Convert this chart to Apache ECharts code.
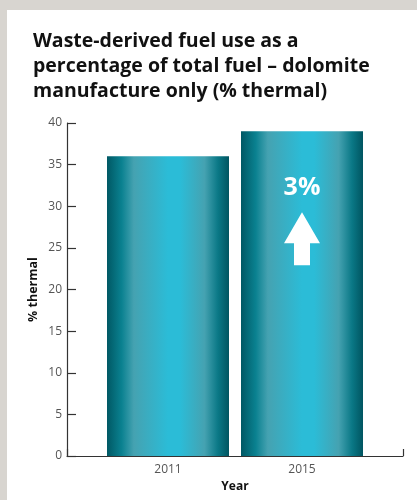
<!DOCTYPE html>
<html>
<head>
<meta charset="utf-8">
<script src="https://cdn.jsdelivr.net/npm/echarts@6/dist/echarts.min.js"></script>
<style>
  html, body { margin: 0; padding: 0; background: #d8d5d0; }
  #main { width: 417px; height: 500px; }
</style>
</head>
<body>
<div id="main"></div>
<script>
var years = ['2011', '2015'];
var thermalPct = [36, 39];
var yTicks = [0, 5, 10, 15, 20, 25, 30, 35, 40];
var changeLabel = '3%';

var chart = echarts.init(document.getElementById('main'));

// horizontal shading across each bar, dark edges and bright middle
var barGradient = new echarts.graphic.LinearGradient(0, 0, 1, 0, [
  { offset: 0, color: '#005864' },
  { offset: 0.12, color: '#0a8190' },
  { offset: 0.22, color: '#45a2b1' },
  { offset: 0.5, color: '#2bbcd7' },
  { offset: 0.6, color: '#2bbcd7' },
  { offset: 0.8, color: '#45a2b1' },
  { offset: 0.91, color: '#0a7886' },
  { offset: 1, color: '#005561' }
]);

var arrowPath = 'path://M18,0 L36,31 L26,31 L26,53 L10,53 L10,31 L0,31 Z';

chart.setOption({
  backgroundColor: '#d8d5d0',
  animation: false,
  textStyle: { fontFamily: 'Open Sans' },
  graphic: [
    {
      type: 'rect',
      z: -10,
      shape: { x: 7, y: 10, width: 410, height: 490 },
      style: { fill: '#ffffff' }
    }
  ],
  title: {
    text: 'Waste-derived fuel use as a\npercentage of total fuel – dolomite\nmanufacture only (% thermal)',
    left: 28,
    top: 24,
    textStyle: {
      fontFamily: 'Open Sans',
      fontWeight: 'bold',
      fontSize: 19.5,
      lineHeight: 25,
      color: '#111111'
    }
  },
  grid: [
    { left: 101, right: 48, top: 123, bottom: 44 },
    { left: 67, right: 14, top: 123, bottom: 44 }
  ],
  xAxis: [
    {
      type: 'category',
      gridIndex: 0,
      data: years,
      name: 'Year',
      nameLocation: 'middle',
      nameGap: 24,
      nameTextStyle: { fontWeight: 'bold', fontSize: 12, color: '#111' },
      axisLine: { show: false },
      axisTick: { show: false },
      axisLabel: { color: '#555', fontSize: 12, margin: 8 }
    },
    {
      type: 'value',
      gridIndex: 1,
      min: 0,
      max: 1,
      interval: 1,
      axisLine: { show: true, lineStyle: { color: '#333', width: 1.2 } },
      axisTick: { show: true, inside: true, length: 7, lineStyle: { color: '#333', width: 1.2 } },
      axisLabel: { show: false },
      splitLine: { show: false }
    }
  ],
  yAxis: [
    {
      type: 'value',
      gridIndex: 0,
      min: 0,
      max: 40,
      interval: 5,
      offset: 34,
      name: '% thermal',
      nameLocation: 'middle',
      nameGap: 27,
      nameMoveOverlap: false,
      nameTextStyle: { fontWeight: 'bold', fontSize: 12.5, color: '#111' },
      axisLine: { show: true, lineStyle: { color: '#333', width: 1.2 } },
      axisTick: { show: true, inside: true, length: 9, lineStyle: { color: '#333', width: 1.2 } },
      axisLabel: {
        color: '#555',
        fontSize: 12,
        margin: 5,
        formatter: function (v) { return yTicks.indexOf(v) >= 0 ? String(v) : ''; }
      },
      splitLine: { show: false }
    },
    {
      type: 'value',
      gridIndex: 1,
      min: 0,
      max: 40,
      show: false
    }
  ],
  series: [
    {
      type: 'bar',
      xAxisIndex: 0,
      yAxisIndex: 0,
      data: thermalPct,
      barWidth: 122,
      itemStyle: { color: barGradient },
      markPoint: {
        silent: true,
        data: [
          {
            coord: [years[1], 32.2],
            symbol: 'rect',
            symbolSize: 1,
            itemStyle: { color: 'rgba(0,0,0,0)' },
            label: {
              show: true,
              position: 'inside',
              formatter: changeLabel,
              color: '#ffffff',
              fontWeight: 'bold',
              fontSize: 25
            }
          },
          {
            coord: [years[1], 26.1],
            symbol: arrowPath,
            symbolSize: [36, 53],
            itemStyle: { color: '#ffffff' },
            label: { show: false }
          }
        ]
      }
    }
  ]
});
</script>
</body>
</html>
